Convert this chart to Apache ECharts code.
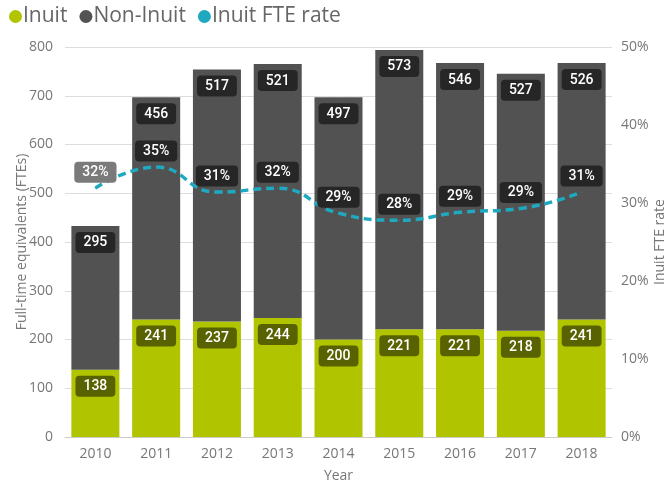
<!DOCTYPE html>
<html><head><meta charset="utf-8">
<script src="https://cdn.jsdelivr.net/npm/echarts@6/dist/echarts.min.js"></script>
<style>html,body{margin:0;padding:0;background:#fff}#c{width:668px;height:487px}</style>
</head><body><div id="c"></div>
<script>
const years = ['2010','2011','2012','2013','2014','2015','2016','2017','2018'];
const inuit = [138,241,237,244,200,221,221,218,241];
const nonInuit = [295,456,517,521,497,573,546,527,526];
const inuitRate = [31.9,34.6,31.4,31.9,28.7,27.8,28.8,29.3,31.4];

const font = "'Open Sans', 'Noto Sans', sans-serif";
const labelFont = "Roboto, 'DejaVu Sans', sans-serif";
const lbl = {show:true, color:'#fff', fontFamily:labelFont, fontSize:14, fontWeight:500,
  borderRadius:4, padding:[3,8,2,8], lineHeight:16};
const chart = echarts.init(document.getElementById('c'));
chart.setOption({
  animation:false,
  legend:{left:4, top:1, itemGap:12, itemWidth:13, itemHeight:13, icon:'circle',
    textStyle:{fontFamily:font, fontSize:21, color:'#666', padding:[0,0,0,-4]},
    data:['Inuit','Non-Inuit','Inuit FTE rate']},
  grid:{left:65, right:56, top:47, bottom:50, outerBoundsMode:'none', containLabel:false},
  xAxis:{type:'category', data:years, name:'Year', nameLocation:'middle', nameGap:32, nameMoveOverlap:false,
    nameTextStyle:{fontFamily:font, fontSize:14, color:'#777'},
    axisTick:{show:false}, axisLine:{lineStyle:{color:'#ccc'}},
    axisLabel:{fontFamily:font, fontSize:14, color:'#777', margin:10}},
  yAxis:[{type:'value', min:0, max:800, interval:100, name:'Full-time equivalents (FTEs)',
    nameLocation:'middle', nameGap:36, nameMoveOverlap:false, nameTextStyle:{fontFamily:font, fontSize:14, color:'#777'},
    axisLabel:{fontFamily:font, fontSize:14, color:'#777', margin:12},
    splitLine:{lineStyle:{color:'#ddd'}}},
   {type:'value', min:0, max:50, interval:10, name:'Inuit FTE rate',
    nameLocation:'middle', nameGap:41, nameRotate:90, nameMoveOverlap:false, nameTextStyle:{fontFamily:font, fontSize:14, color:'#777'},
    axisLabel:{fontFamily:font, fontSize:14, color:'#777', margin:9, formatter:'{value}%'},
    splitLine:{show:false}}],
  series:[
   {name:'Inuit', type:'bar', stack:'t', barWidth:'79%', data:inuit,
    itemStyle:{color:'#b0c400'},
    label:Object.assign({}, lbl, {position:'insideTop', distance:6, backgroundColor:'#586200'})},
   {name:'Non-Inuit', type:'bar', stack:'t', data:nonInuit,
    itemStyle:{color:'#525252'},
    label:Object.assign({}, lbl, {position:'insideTop', distance:6, backgroundColor:'#262626'})},
   {name:'Inuit FTE rate', type:'line', yAxisIndex:1, smooth:0.5,
    data:inuitRate.map((v,i)=>i===0?{value:v,label:{backgroundColor:'#7a7a7a'}}:v),
    showSymbol:true, symbol:'circle', symbolSize:1, itemStyle:{color:'#1fa9c0'},
    lineStyle:{color:'#1fa9c0', width:3.5, type:[8,5]},
    label:Object.assign({}, lbl, {position:'top', distance:5, backgroundColor:'#262626',
      formatter:p=>Math.round(p.value)+'%'})}
  ]
});
</script></body></html>
